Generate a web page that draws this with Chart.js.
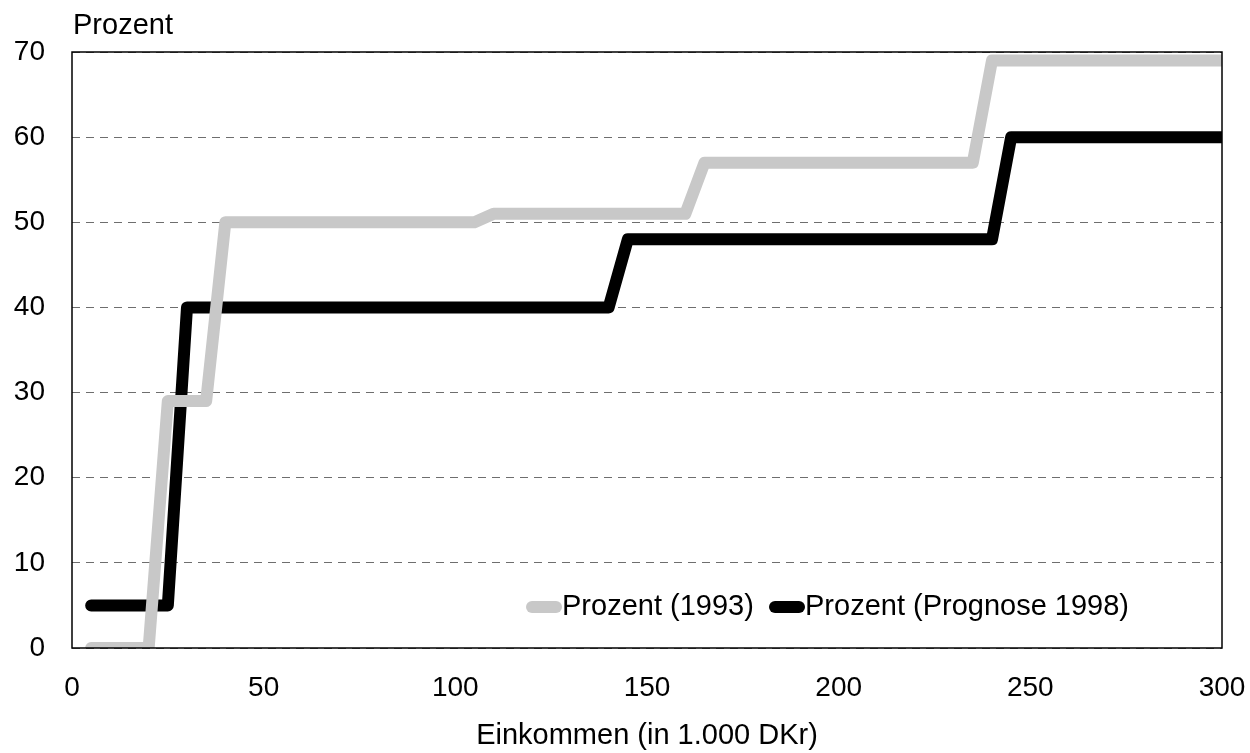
<!DOCTYPE html>
<html>
<head>
<meta charset="utf-8">
<script src="https://cdn.jsdelivr.net/npm/chart.js"></script>
<style>
  html, body { margin: 0; padding: 0; background: #fff; }
  #wrap { width: 1250px; height: 753px; }
</style>
</head>
<body>
<div id="wrap"><canvas id="chart" width="1250" height="753"></canvas></div>
<script>
// Einkommen (x) und Prozent (y)
const x1993 = [5, 20, 25, 35, 40, 105, 110, 160, 165, 235, 240, 300];
const y1993 = [0, 0, 29, 29, 50, 50, 51, 51, 57, 57, 69, 69];
const x1998 = [5, 25, 30, 140, 145, 240, 245, 300];
const y1998 = [5, 5, 40, 40, 48, 48, 60, 60];

const seriesNames = ["Prozent (1993)", "Prozent (Prognose 1998)"];
const xTicks = [0, 50, 100, 150, 200, 250, 300];
const yTicks = [0, 10, 20, 30, 40, 50, 60, 70];

const FONT = "'Liberation Sans', Arial, sans-serif";

const toPoints = (xs, ys) => xs.map((x, i) => ({ x: x, y: ys[i] }));

// Rahmen, Achsentitel oben und Legende im Diagramm
const extras = {
  id: "extras",
  afterDraw(chart) {
    const { ctx, chartArea: a } = chart;
    ctx.save();
    ctx.strokeStyle = "#000";
    ctx.lineWidth = 1.5;
    ctx.strokeRect(a.left, a.top, a.right - a.left, a.bottom - a.top);

    ctx.fillStyle = "#000";
    ctx.font = "29px " + FONT;
    ctx.textBaseline = "middle";
    ctx.textAlign = "left";
    ctx.fillText("Prozent", 73, 26);

    // Legende
    const items = [
      { label: seriesNames[0], color: "#c8c8c8", x: 526 },
      { label: seriesNames[1], color: "#000000", x: 769 }
    ];
    const ly = 607;
    items.forEach(it => {
      ctx.strokeStyle = it.color;
      ctx.lineWidth = 12;
      ctx.lineCap = "round";
      ctx.beginPath();
      ctx.moveTo(it.x + 6, ly);
      ctx.lineTo(it.x + 30, ly);
      ctx.stroke();
      ctx.fillStyle = "#000";
      ctx.font = "29px " + FONT;
      ctx.fillText(it.label, it.x + 36, ly);
    });
    ctx.restore();
  }
};

new Chart(document.getElementById("chart"), {
  type: "scatter",
  data: {
    datasets: [
      {
        label: seriesNames[0],
        data: toPoints(x1993, y1993),
        showLine: true,
        borderColor: "#c8c8c8",
        borderWidth: 12,
        borderCapStyle: "round",
        borderJoinStyle: "round",
        pointRadius: 0,
        pointHoverRadius: 0,
        tension: 0
      },
      {
        label: seriesNames[1],
        data: toPoints(x1998, y1998),
        showLine: true,
        borderColor: "#000000",
        borderWidth: 12,
        borderCapStyle: "round",
        borderJoinStyle: "round",
        pointRadius: 0,
        pointHoverRadius: 0,
        tension: 0
      }
    ]
  },
  options: {
    responsive: false,
    animation: false,
    layout: { padding: { top: 52, right: 28, left: 0, bottom: 0 } },
    plugins: {
      legend: { display: false },
      tooltip: { enabled: false }
    },
    scales: {
      x: {
        type: "linear",
        min: 0,
        max: 300,
        afterBuildTicks: s => { s.ticks = xTicks.map(v => ({ value: v })); },
        grid: { display: false, drawTicks: false },
        border: { display: false },
        ticks: {
          color: "#000",
          font: { family: FONT, size: 28 },
          padding: 23,
          maxRotation: 0
        },
        title: {
          display: true,
          text: "Einkommen (in 1.000 DKr)",
          color: "#000",
          font: { family: FONT, size: 29 },
          padding: { top: 10, bottom: 0 }
        },
        afterFit: s => {
          s.height = 105;
          s.paddingLeft = 0;
          s.paddingRight = 0;
        }
      },
      y: {
        min: 0,
        max: 70,
        afterBuildTicks: s => { s.ticks = yTicks.map(v => ({ value: v })); },
        grid: {
          color: "#6e6e6e",
          lineWidth: 1,
          drawTicks: false
        },
        border: { display: false, dash: [8, 6] },
        ticks: {
          color: "#000",
          font: { family: FONT, size: 28 },
          padding: 27
        },
        afterFit: s => {
          s.width = 72;
          s.paddingTop = 0;
          s.paddingBottom = 0;
        }
      }
    }
  },
  plugins: [extras]
});
</script>
</body>
</html>
